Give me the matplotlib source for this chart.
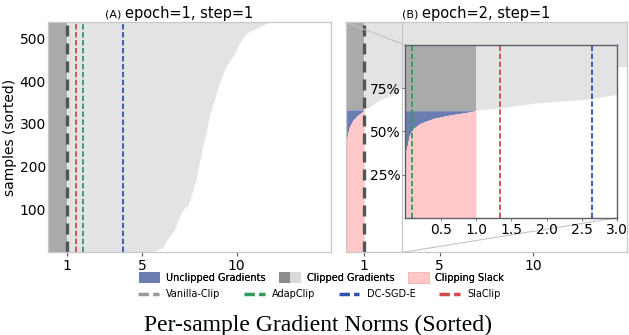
import matplotlib
matplotlib.use("Agg")
import matplotlib.pyplot as plt
from matplotlib.patches import Patch
from matplotlib.lines import Line2D
from matplotlib.legend_handler import HandlerTuple
from mpl_toolkits.axes_grid1.inset_locator import mark_inset

# ---- data ----
# (A) epoch=1: sorted sample index vs gradient norm (all samples clipped)
a_index = [0, 11, 26, 46, 61, 92, 104, 108, 131, 170, 209, 247, 279, 317,
           356, 395, 434, 457, 488, 512, 519, 531, 537]
a_norm = [5.45, 6.07, 6.25, 6.6, 6.78, 7.05, 7.22, 7.4, 7.58, 7.85, 8.02, 8.2,
          8.38, 8.55, 8.82, 9.08, 9.44, 9.79, 10.15, 10.5, 10.86, 11.39, 11.74]
a_n_samples = 537

# (B) epoch=2: fraction of samples vs norm, unclipped part (norm < C)
b_frac_low = [0.0, 0.38, 0.42, 0.479, 0.517, 0.546, 0.575, 0.595, 0.61, 0.62]
b_norm_low = [0.0, 0.0, 0.027, 0.055, 0.112, 0.207, 0.395, 0.63, 0.87, 1.0]
# clipped part (norm > C)
b_frac_high = [0.62, 0.633, 0.662, 0.686, 0.71, 0.74, 0.78, 0.807, 0.9, 1.0]
b_norm_high = [1.0, 1.34, 1.86, 2.64, 2.97, 5.0, 10.0, 15.0, 25.0, 60.0]

# clipping thresholds of each method
clip_vanilla = 1.0
a_thresholds = {"SlaClip": 1.46, "AdapClip": 1.87, "DC-SGD-E": 4.0}
b_thresholds = {"AdapClip": 0.09, "SlaClip": 1.335, "DC-SGD-E": 2.64}

# ---- colours ----
c_unclipped = "#6a7db3"
c_clip_dark = "#aaaaaa"
c_clip_light = "#e3e3e3"
c_slack = "#ffc9ca"
c_vanilla = "#555555"
line_colors = {"AdapClip": "#2e9b5a", "SlaClip": "#d5484b", "DC-SGD-E": "#3150b3"}
spine_color = "#c8c8c8"

plt.rcParams["font.family"] = "DejaVu Sans"
plt.rcParams["font.size"] = 10

fig = plt.figure(figsize=(6.29, 3.35), dpi=100)


def style_axes(ax):
    for s in ax.spines.values():
        s.set_color(spine_color)
        s.set_linewidth(0.9)
    ax.tick_params(axis="both", length=3, width=0.8, color="0.35",
                   labelsize=10, pad=1.5)


def add_title(ax, tag, text):
    t = ax.set_title(text, fontsize=10.5, pad=3)
    ax.annotate(tag + " ", xy=(0, 0.45), xycoords=t, ha="right", va="center",
                fontsize=8)


def vanilla_line(ax):
    ax.axvline(clip_vanilla, color=c_vanilla, lw=2.4, dashes=(3.3, 2.1))


# ---------------- panel A ----------------
ax_a = fig.add_axes([0.0763, 0.2463, 0.4497, 0.6871])
ax_a.fill_betweenx(a_index, 0, clip_vanilla, color=c_clip_dark, lw=0)
ax_a.fill_betweenx(a_index, clip_vanilla, a_norm, color=c_clip_light, lw=0)
vanilla_line(ax_a)
for name in ["SlaClip", "AdapClip", "DC-SGD-E"]:
    ax_a.axvline(a_thresholds[name], color=line_colors[name], lw=1.3,
                 dashes=(3, 1.4))
ax_a.set_xlim(0, 15)
ax_a.set_ylim(0, a_n_samples)
ax_a.set_xticks([1, 5, 10])
ax_a.set_yticks([100, 200, 300, 400, 500])
ax_a.set_ylabel("samples (sorted)", fontsize=10, labelpad=2)
style_axes(ax_a)
ax_a.tick_params(axis="y", length=0)
add_title(ax_a, "(A)", "epoch=1, step=1")

# ---------------- panel B ----------------
ax_b = fig.add_axes([0.5493, 0.2463, 0.4483, 0.6871])


def draw_b(ax):
    ax.fill_betweenx(b_frac_low, 0, b_norm_low, color=c_unclipped, lw=0)
    ax.fill_betweenx(b_frac_low, b_norm_low, clip_vanilla, color=c_slack, lw=0)
    ax.fill_betweenx(b_frac_high, 0, clip_vanilla, color=c_clip_dark, lw=0)
    ax.fill_betweenx(b_frac_high, clip_vanilla, b_norm_high,
                     color=c_clip_light, lw=0)


draw_b(ax_b)
vanilla_line(ax_b)
ax_b.set_xlim(0, 15)
ax_b.set_ylim(0, 1)
ax_b.set_xticks([1, 5, 10])
ax_b.set_yticks([])
style_axes(ax_b)
add_title(ax_b, "(B)", "epoch=2, step=1")

# zoomed inset
ax_in = fig.add_axes([0.6445, 0.350, 0.3369, 0.5157])
draw_b(ax_in)
for name in ["AdapClip", "SlaClip", "DC-SGD-E"]:
    ax_in.axvline(b_thresholds[name], color=line_colors[name], lw=1.3,
                  dashes=(3, 1.4))
ax_in.set_xlim(0, 3)
ax_in.set_ylim(0, 1)
ax_in.set_xticks([0.5, 1.0, 1.5, 2.0, 2.5, 3.0])
ax_in.set_yticks([0.25, 0.5, 0.75])
ax_in.set_yticklabels(["25%", "50%", "75%"])
for s in ax_in.spines.values():
    s.set_color("#5a5f6a")
    s.set_linewidth(1.0)
ax_in.tick_params(axis="both", length=2, width=0.6, color="0.4",
                  labelsize=10, pad=1.5)
mark_inset(ax_b, ax_in, loc1=2, loc2=4, fc="none", ec="#c4c4c4", lw=0.8)

# ---------------- legends ----------------
patch_handles = [
    Patch(facecolor=c_unclipped, edgecolor="none"),
    (Patch(facecolor="#8c8c8c", edgecolor="none"),
     Patch(facecolor="#d9d9d9", edgecolor="none")),
    Patch(facecolor=c_slack, edgecolor="#ffb0b0", lw=0.5),
]
patch_labels = ["Unclipped Gradients", "Clipped Gradients", "Clipping Slack"]
leg1 = fig.legend(patch_handles, patch_labels, loc="center", ncol=3,
                  bbox_to_anchor=(0.511, 0.172), frameon=False, fontsize=7,
                  handlelength=2.2, handleheight=1.3, handletextpad=0.6,
                  columnspacing=1.4,
                  handler_map={tuple: HandlerTuple(ndivide=None, pad=0)})

line_names = ["Vanilla-Clip", "AdapClip", "DC-SGD-E", "SlaClip"]
line_handles = [Line2D([], [], color="#999999", lw=2.5, dashes=(3, 1.2))]
for name in line_names[1:]:
    line_handles.append(Line2D([], [], color=line_colors[name], lw=2.5,
                               dashes=(3, 1.2)))
leg2 = fig.legend(line_handles, line_names, loc="center", ncol=4,
                  bbox_to_anchor=(0.508, 0.122), frameon=False, fontsize=7,
                  handlelength=2.1, handletextpad=0.8, columnspacing=2.4)
fig.add_artist(leg1)

fig.text(0.505, 0.012, "Per-sample Gradient Norms (Sorted)", ha="center",
         va="baseline", fontsize=17, family="Liberation Serif")

fig.savefig("out.png", dpi=100)
